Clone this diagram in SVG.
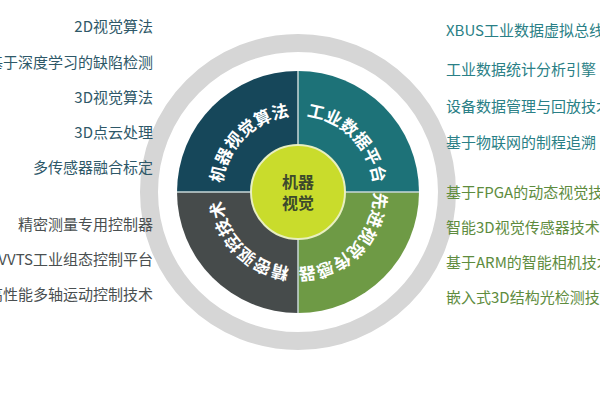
<svg xmlns="http://www.w3.org/2000/svg" width="600" height="400" viewBox="0 0 600 400">
<style>
text{font-family:"Noto Sans CJK SC","Liberation Sans",sans-serif;font-size:15px}
.l{text-anchor:end}
.lt{fill:#2e5868}.lb{fill:#4a4f50}.rt{fill:#2a7f86}.rb{fill:#5e8c3e}
.q{fill:#fff;font-size:17px;font-weight:bold;text-anchor:middle}
</style>
<defs>
<path id="aTL" d="M222.3,198.6 A76,76 0 0 1 304.6,116.3"/>
<path id="aTR" d="M291.4,116.3 A76,76 0 0 1 373.7,198.6"/>
<path id="aBR" d="M373.7,185.4 A76,76 0 0 1 291.4,267.7"/>
<path id="aBL" d="M304.6,267.7 A76,76 0 0 1 222.3,185.4"/>
</defs>
<rect width="600" height="400" fill="#fff"/>
<circle cx="298" cy="192" r="149" fill="none" stroke="#d6d6d6" stroke-width="18"/>
<g id="q-tl"><path d="M298,192 L177,192 A121,121 0 0 1 298,71 Z" fill="#16475a"/><text class="q"><textPath href="#aTL" startOffset="50%">机器视觉算法</textPath></text></g>
<g id="q-tr"><path d="M298,192 L298,71 A121,121 0 0 1 419,192 Z" fill="#1d7278"/><text class="q"><textPath href="#aTR" startOffset="50%">工业数据平台</textPath></text></g>
<g id="q-br"><path d="M298,192 L419,192 A121,121 0 0 1 298,313 Z" fill="#6e9a45"/><text class="q"><textPath href="#aBR" startOffset="50%">先进视觉传感器</textPath></text></g>
<g id="q-bl"><path d="M298,192 L298,313 A121,121 0 0 1 177,192 Z" fill="#464b4b"/><text class="q"><textPath href="#aBL" startOffset="50%">精密驱控技术</textPath></text></g>
<g id="connectors"><path d="M177,192H419M298,71V313" stroke="#c8d8d8" stroke-width="1.5"/></g>
<g id="center"><circle cx="298" cy="192" r="47" fill="#c9dc2c" stroke="#e8efc0" stroke-width="2"/>
<text x="298" y="188" text-anchor="middle" style="font-size:16px;font-weight:bold;fill:#3d4a2c">机器</text>
<text x="298" y="209" text-anchor="middle" style="font-size:16px;font-weight:bold;fill:#3d4a2c">视觉</text></g>
<g id="left">
<text class="l lt" x="153" y="32">2D视觉算法</text>
<text class="l lt" x="153" y="68">基于深度学习的缺陷检测</text>
<text class="l lt" x="153" y="103">3D视觉算法</text>
<text class="l lt" x="153" y="138">3D点云处理</text>
<text class="l lt" x="153" y="173">多传感器融合标定</text>
<text class="l lb" x="153" y="230">精密测量专用控制器</text>
<text class="l lb" x="153" y="265">VVTS工业组态控制平台</text>
<text class="l lb" x="153" y="300">高性能多轴运动控制技术</text>
</g>
<g id="right">
<text class="rt" x="446" y="36">XBUS工业数据虚拟总线</text>
<text class="rt" x="446" y="75">工业数据统计分析引擎</text>
<text class="rt" x="446" y="112">设备数据管理与回放技术</text>
<text class="rt" x="446" y="148">基于物联网的制程追溯</text>
<text class="rb" x="446" y="198">基于FPGA的动态视觉技术</text>
<text class="rb" x="446" y="233">智能3D视觉传感器技术</text>
<text class="rb" x="446" y="268">基于ARM的智能相机技术</text>
<text class="rb" x="446" y="303">嵌入式3D结构光检测技术</text>
</g>
</svg>
